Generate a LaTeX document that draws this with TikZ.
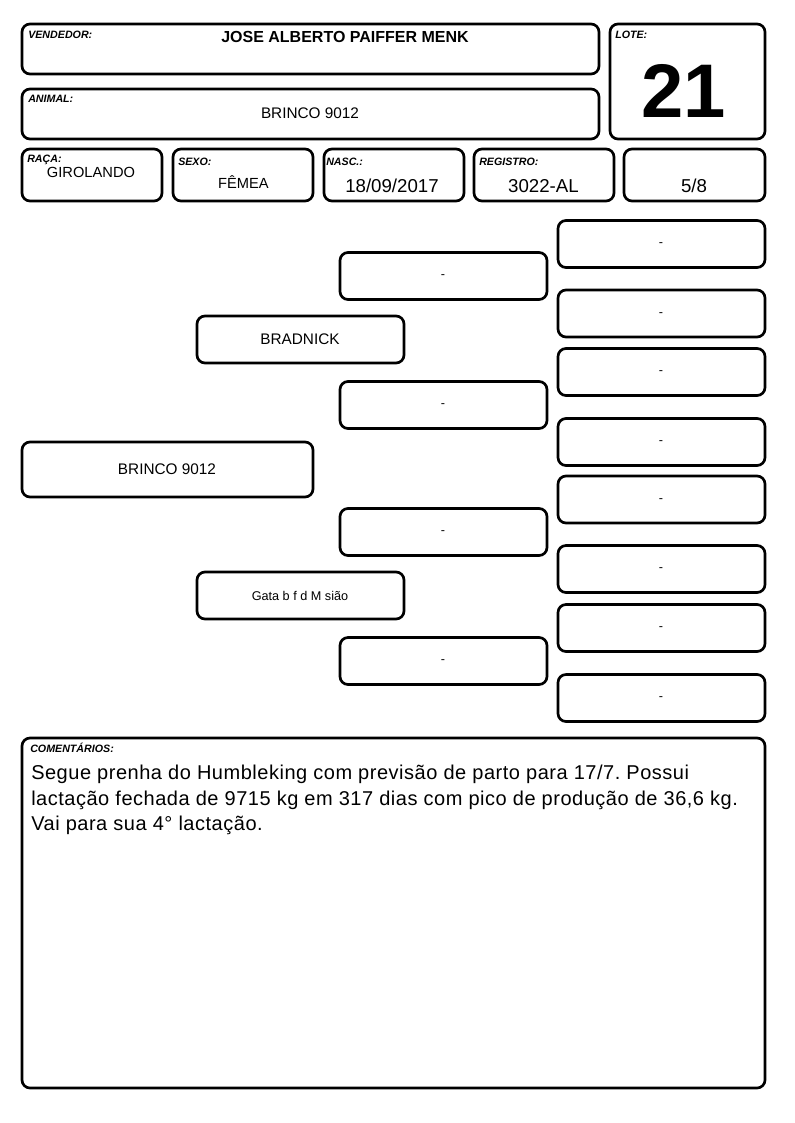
\documentclass[tikz,border=0pt]{standalone}
\usepackage{fontspec}
\setmainfont{Liberation Sans}
\frenchspacing

\tikzset{
    cell/.style={draw, line width=2pt, rounded corners=6pt},
    tag/.style={anchor=base west, inner sep=0pt, font=\fontsize{8}{9}\selectfont\bfseries\itshape},
    val/.style={anchor=base, inner sep=0pt, font=\fontsize{11}{13}\selectfont},
    bigval/.style={anchor=base, inner sep=0pt, font=\fontsize{14}{16}\selectfont},
    nome/.style={inner sep=0pt, font=\fontsize{11.5}{13}\selectfont},
    vazio/.style={inner sep=0pt, font=\fontsize{9.5}{10}\selectfont},
}

\begin{document}
\begin{tikzpicture}[x=0.75pt, y=-0.75pt]
\useasboundingbox (0,0) rectangle (794,1123);
% header
\draw[cell] (22,24) rectangle (599,74);
\draw[cell] (22,89) rectangle (599,139);
\draw[cell] (610,24) rectangle (765,139);
\node[tag] (tvend) at (28,39) {VENDEDOR:};
\node[anchor=base, inner sep=0pt, font=\fontsize{12}{14}\selectfont\bfseries] (vend) at (345,43) {JOSE ALBERTO PAIFFER MENK};
\node[tag] (tanim) at (28,103) {ANIMAL:};
\node[val, font=\fontsize{11.5}{13}\selectfont] (anim) at (310,119) {BRINCO 9012};
\node[tag] (tlote) at (615,39) {LOTE:};
\node[anchor=base, inner sep=0pt, font=\fontsize{57}{60}\selectfont\bfseries] (lote) at (684,118) {21};
% dados
\draw[cell] (22,149) rectangle (162,201);
\draw[cell] (173,149) rectangle (313,201);
\draw[cell] (324,149) rectangle (464,201);
\draw[cell] (474,149) rectangle (614,201);
\draw[cell] (624,149) rectangle (765,201);
\node[tag] (traca) at (27,162.5) {RAÇA:};
\node[val] (raca) at (91,178) {GIROLANDO};
\node[tag] (tsexo) at (178,165.5) {SEXO:};
\node[val] (sexo) at (243.5,189) {FÊMEA};
\node[tag] (tnasc) at (326,165.5) {NASC.:};
\node[bigval] (nasc) at (392,193) {18/09/2017};
\node[tag] (treg) at (479,166) {REGISTRO:};
\node[bigval] (reg) at (543.5,193) {3022-AL};
\node[bigval] (grau) at (694,193) {5/8};
% pedigree
\foreach \y [count=\i] in {244,313.5,372,442,499.5,569,628,698}{
    \draw[cell] (558,\y-23.5) rectangle (765,\y+23.5);
    \node[vazio] (bisavo\i) at (661,\y+1) {-};
}
\foreach \y [count=\i] in {276,405,532,661}{
    \draw[cell] (340,\y-23.5) rectangle (547,\y+23.5);
    \node[vazio] (avo\i) at (443,\y+1) {-};
}
\draw[cell] (197,316) rectangle (404,363);
\node[nome] (pai) at (300,339.5) {BRADNICK};
\draw[cell] (197,572) rectangle (404,619);
\node[inner sep=0pt, font=\fontsize{9.5}{11}\selectfont] (mae) at (300,595.5) {Gata b f d M sião};
\draw[cell] (22,442) rectangle (313,497);
\node[nome] (animal) at (167,469.5) {BRINCO 9012};
% comentarios
\draw[cell] (22,738) rectangle (765,1088);
\node[tag] (tcom) at (30,752) {COMENTÁRIOS:};
\node[anchor=north west, inner sep=0pt, align=left,
    font=\fontsize{15}{19}\selectfont\addfontfeatures{LetterSpace=2.6}] (com) at (31,765)
    {Segue prenha do Humbleking com previsão de parto para 17/7. Possui\\
     lactação fechada de 9715 kg em 317 dias com pico de produção de 36,6 kg.\\
     Vai para sua 4° lactação.};
\end{tikzpicture}
\end{document}
